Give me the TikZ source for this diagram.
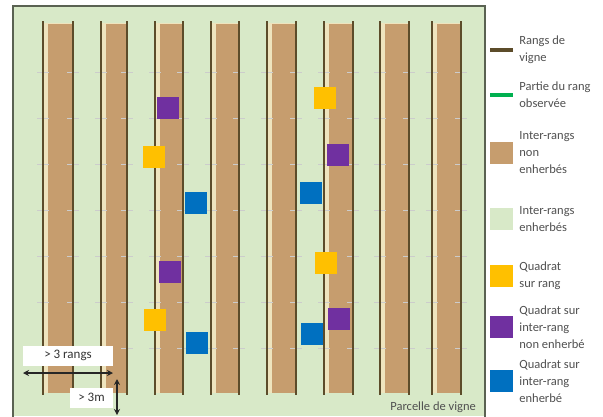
\documentclass[tikz,border=0pt]{standalone}
\usepackage{fontspec}
\setmainfont{Carlito}
\usetikzlibrary{arrows.meta,positioning}
\definecolor{herbe}{RGB}{216,233,200}
\definecolor{terre}{RGB}{198,157,110}
\definecolor{creme}{RGB}{238,228,190}
\definecolor{rangc}{RGB}{92,76,42}
\definecolor{observe}{RGB}{0,176,80}
\definecolor{qrang}{RGB}{255,192,0}
\definecolor{qnu}{RGB}{112,48,160}
\definecolor{qherbe}{RGB}{0,112,192}
\definecolor{cadre}{RGB}{90,98,82}
\definecolor{texte}{RGB}{80,80,80}
\tikzset{
  swatch/.style={minimum width=23pt, minimum height=22pt, inner sep=0pt},
  swline/.style={minimum width=23pt, minimum height=3.5pt, inner sep=0pt},
  legtext/.style={align=left, inner sep=0pt, text=texte, font=\fontsize{12.5}{17}\selectfont},
  cote/.style={fill=white, inner sep=0pt, text=black!80, font=\fontsize{13}{15}\selectfont},
  cotefl/.style={{Stealth[length=6pt,width=6pt]}-{Stealth[length=6pt,width=6pt]}, line width=1.3pt, black!85},
}
\begin{document}
\begin{tikzpicture}[x=1pt, y=-1pt]
        \useasboundingbox (0,0) rectangle (603,416);
        % PARCELLE
        \fill[herbe] (13,6) rectangle (485,416);
        % Inter-rangs non enherbes
        \foreach \a/\b in {43/73, 101/127, 155/183, 211/239, 267/296, 324/353, 380/409, 432/461} {
            \fill[creme] (\a,23) rectangle (\b,393);
            \fill[terre] (\a+5,24) rectangle (\b-1,393);
        }
        % Piquets (ticks) et rangs
        \foreach \x in {43,73,101,127,155,183,211,239,267,296,324,353,380,409,432,461} {
            \foreach \y in {72,118,164,210,256,302,348} {
                \draw[gray!40, line width=0.6pt] (\x-6,\y) -- (\x+6,\y);
            }
            \draw[rangc, line width=2.8pt] (\x,21) -- (\x,395);
        }
        % Quadrats
        \foreach \x/\y/\c in {168/108/qnu, 170/272/qnu, 338/155/qnu, 339/319/qnu,
                              154/157/qrang, 155/320/qrang, 325/98/qrang, 326/263/qrang,
                              196/203/qherbe, 197/343/qherbe, 311/193/qherbe, 312/334/qherbe} {
            \fill[\c] (\x-11,\y-11) rectangle ++(22,22);
        }
        \draw[cadre, line width=1.4pt] (13,6) rectangle (485,420);
        \node[legtext, anchor=east] (parcelle) at (476,407) {Parcelle de vigne};
        % Distances
        \node[cote, minimum width=90pt, minimum height=20pt] (nrangs) at (68,355.5) {> 3 rangs};
        \node[cote, minimum width=43pt, minimum height=20pt] (nmetres) at (91.5,397.5) {> 3m};
        \coordinate (rg) at (23,373);
        \coordinate (rd) at (113,373);
        \coordinate (mh) at (117,379);
        \coordinate (mb) at (117,415);
        \draw[cotefl] (rg) -- (rd);
        \draw[cotefl] (mh) -- (mb);
        % LEGENDE
        \node[swline, fill=rangc] (lrang) at (501.5,50) {};
        \node[legtext, right=6pt of lrang] (trang) {Rangs de\\vigne};
        \node[swline, fill=observe] (lobs) at (501.5,95) {};
        \node[legtext, right=6pt of lobs] (tobs) {Partie du rang\\observée};
        \node[swatch, fill=terre] (lterre) at (501.5,153) {};
        \node[legtext, right=6pt of lterre] (tterre) {Inter-rangs\\non\\enherbés};
        \node[swatch, fill=herbe] (lherbe) at (501.5,219) {};
        \node[legtext, right=6pt of lherbe] (therbe) {Inter-rangs\\enherbés};
        \node[swatch, fill=qrang] (lqrang) at (501.5,276) {};
        \node[legtext, right=6pt of lqrang] (tqrang) {Quadrat\\sur rang};
        \node[swatch, fill=qnu] (lqnu) at (501.5,327) {};
        \node[legtext, right=6pt of lqnu] (tqnu) {Quadrat sur\\inter-rang\\non enherbé};
        \node[swatch, fill=qherbe] (lqherbe) at (501.5,381) {};
        \node[legtext, right=6pt of lqherbe] (tqherbe) {Quadrat sur\\inter-rang\\enherbé};
\end{tikzpicture}
\end{document}
